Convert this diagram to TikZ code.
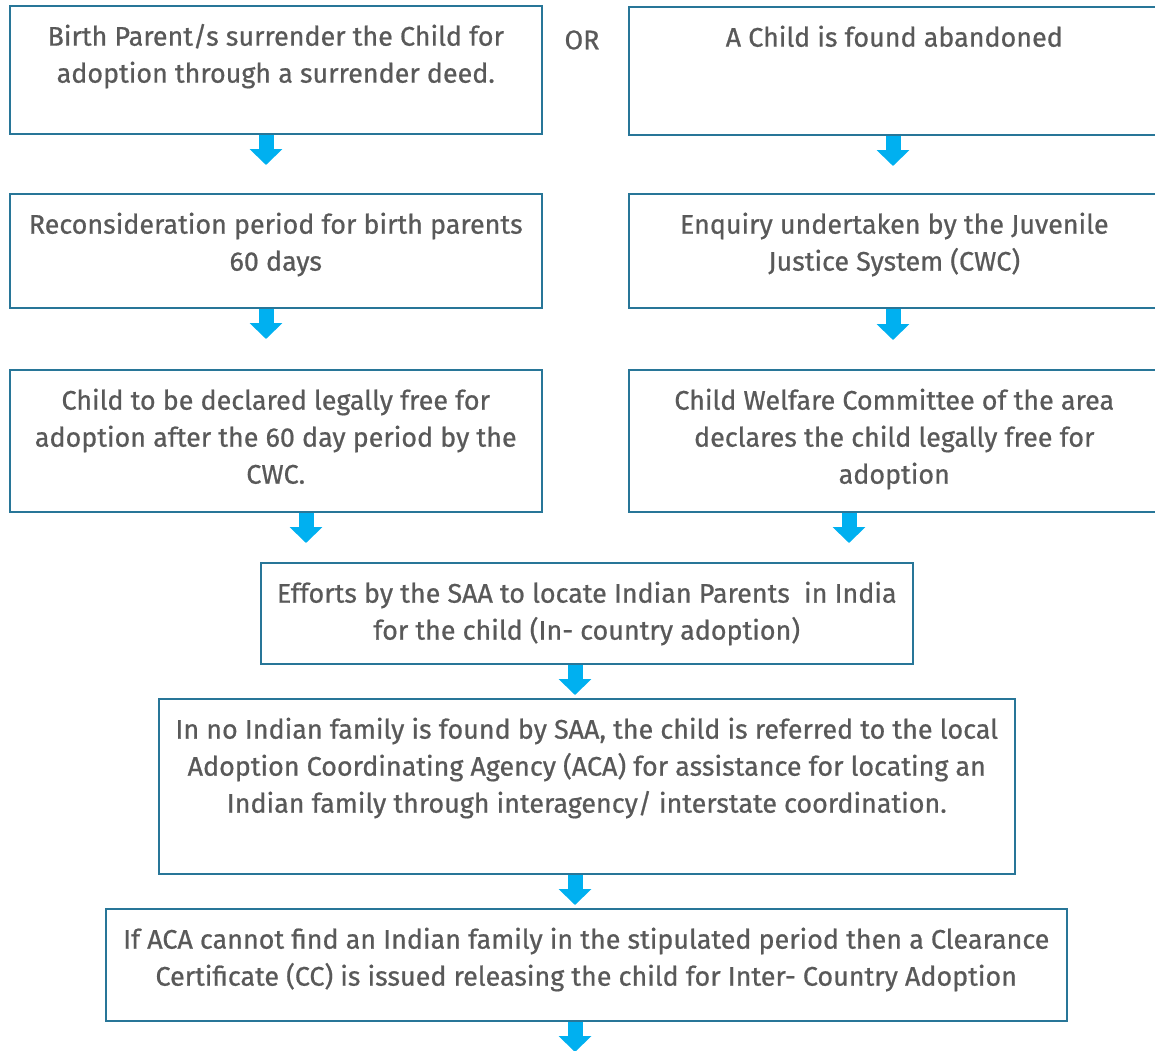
\documentclass[tikz,border=0pt]{standalone}
\usepackage{fontspec}
\setmainfont{Fira Sans}[FakeBold=0.7]
\usetikzlibrary{arrows.meta}
\definecolor{boxline}{RGB}{40,118,152}
\definecolor{flow}{RGB}{0,176,240}
\definecolor{ink}{RGB}{89,89,89}
\tikzset{stage/.style={draw=boxline,line width=1.5pt,inner sep=0pt,anchor=north west,text=ink}}
\tikzset{down/.style={flow,line width=15pt,-{Triangle[width=32pt,length=16pt]}}}
% box text: width, height, lines (top aligned)
\newcommand{\stagetext}[3]{\parbox[c][#2][t]{#1}{\vspace*{14pt}\centering\fontsize{26.9}{37}\selectfont\strut #3\par}}

\begin{document}
\begin{tikzpicture}[x=1pt,y=1pt]
        \useasboundingbox (0,0) rectangle (1155,-1050);
        % left column
        \node[stage] (surrender) at (9,-5) {\stagetext{532pt}{128pt}{Birth Parent/s surrender the Child for\\ adoption through a surrender deed.}};
        \node[stage] (reconsider) at (9,-193) {\stagetext{532pt}{114pt}{Reconsideration period for birth parents\\ 60 days}};
        \node[stage] (freeL) at (9,-369) {\stagetext{532pt}{142pt}{Child to be declared legally free for\\ adoption after the 60 day period by the\\ CWC.}};
        % right column
        \node[stage] (found) at (628,-6) {\stagetext{531pt}{128pt}{A Child is found abandoned}};
        \node[stage] (enquiry) at (628,-193) {\stagetext{531pt}{114pt}{Enquiry undertaken by the Juvenile\\ Justice System (CWC)}};
        \node[stage] (freeR) at (628,-369) {\stagetext{531pt}{142pt}{Child Welfare Committee of the area\\ declares the child legally free for\\ adoption}};
        \node[text=ink,font=\fontsize{26.9}{37}\selectfont] (or) at (582,-40) {OR};
        % common path
        \node[stage] (saa) at (260,-562) {\stagetext{652pt}{101pt}{Efforts by the SAA to locate Indian Parents\ \ in India\\ for the child (In- country adoption)}};
        \node[stage] (aca) at (158,-698) {\stagetext{856pt}{175pt}{In no Indian family is found by SAA, the child is referred to the local\\ Adoption Coordinating Agency (ACA) for assistance for locating an\\ Indian family through interagency/ interstate coordination.}};
        \node[stage] (cc) at (105,-908) {\stagetext{961pt}{112pt}{If ACA cannot find an Indian family in the stipulated period then a Clearance\\ Certificate (CC) is issued releasing the child for Inter- Country Adoption}};
        % arrows
        \coordinate (t1) at (266,-165);
        \coordinate (t2) at (893,-166);
        \coordinate (t3) at (266,-339);
        \coordinate (t4) at (893,-340);
        \coordinate (t5) at (306,-543);
        \coordinate (t6) at (849,-543);
        \coordinate (t7) at (575,-695);
        \coordinate (t8) at (575,-905);
        \coordinate (t9) at (575,-1052);
        \draw[down] (t1|-surrender.south) -- (t1);
        \draw[down] (t2|-found.south) -- (t2);
        \draw[down] (t3|-reconsider.south) -- (t3);
        \draw[down] (t4|-enquiry.south) -- (t4);
        \draw[down] (t5|-freeL.south) -- (t5);
        \draw[down] (t6|-freeR.south) -- (t6);
        \draw[down] (t7|-saa.south) -- (t7);
        \draw[down] (t8|-aca.south) -- (t8);
        \draw[down] (t9|-cc.south) -- (t9);
      \end{tikzpicture}
\end{document}
